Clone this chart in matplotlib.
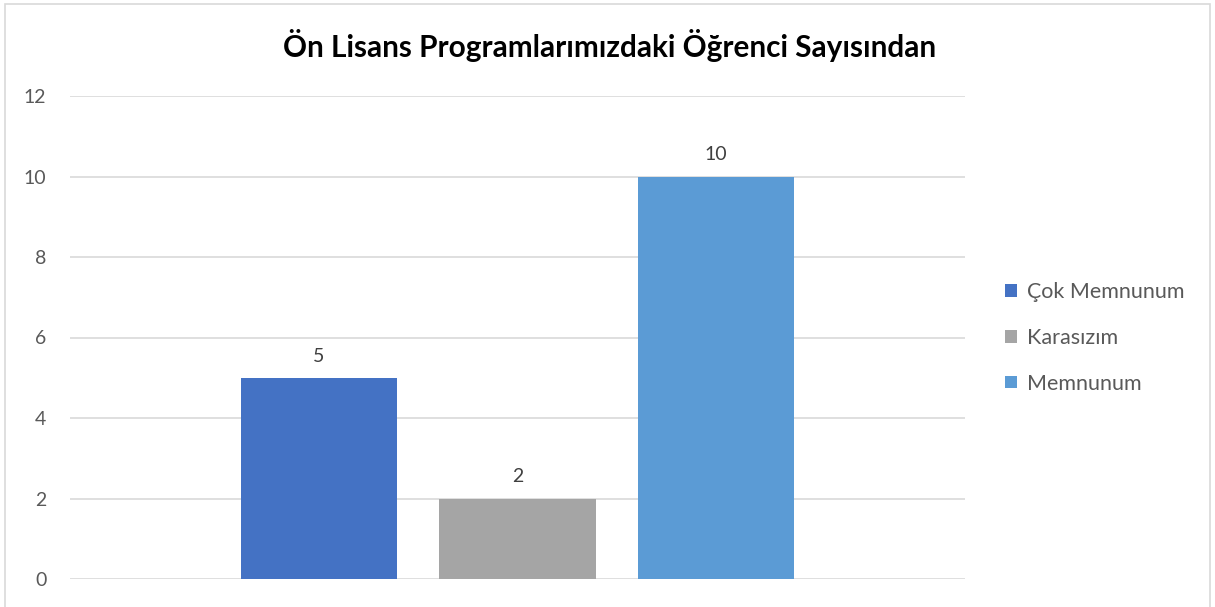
import matplotlib.pyplot as plt
from matplotlib.patches import Rectangle

# --- data ---
TITLE = "Ön Lisans Programlarımızdaki Öğrenci Sayısından"
categories = ["Çok Memnunum", "Karasızım", "Memnunum"]
values = [5, 2, 10]
colors = ["#4472C4", "#A5A5A5", "#5B9BD5"]
yticks = [0, 2, 4, 6, 8, 10, 12]

plt.rcParams['font.family'] = ['Lato', 'DejaVu Sans']

W, H = 1215, 607
fig = plt.figure(figsize=(W / 100, H / 100), dpi=100)

# outer chart border (bottom edge runs off the image)
fig.patches.append(Rectangle((5 / W, -0.05), 1205 / W, 1 - 4 / H + 0.05,
                             transform=fig.transFigure, fill=False,
                             edgecolor='#D9D9D9', linewidth=1.2))

ax = fig.add_axes([70 / W, 1 - 579 / H, 895 / W, (579 - 96) / H])

x = range(len(values))
bars = ax.bar(x, values, width=0.79, color=colors, label=categories, zorder=3)
for xi, v in zip(x, values):
    ax.annotate(str(v), (xi, v), xytext=(0, 9.5), textcoords='offset points',
                ha='center', va='bottom', fontsize=14, color='#404040')

ax.set_xlim(-1.255, 3.255)
ax.set_ylim(0, 12)
ax.set_yticks(yticks)
ax.set_xticks([])
ax.grid(axis='y', color='#D9D9D9', linewidth=1.2, zorder=0)
for s in ax.spines.values():
    s.set_visible(False)
ax.tick_params(axis='y', length=0, pad=17, labelsize=14, labelcolor='#595959')

fig.text(610 / W, 1 - 45 / H, TITLE, ha='center', va='center',
         fontsize=21.4, fontweight='bold', color='black')

fig.legend(handles=bars.patches, labels=categories, loc='center left',
           bbox_to_anchor=(986 / W, 1 - 338 / H), frameon=False,
           fontsize=15.5, labelcolor='#595959', handlelength=0.52,
           handleheight=0.52, handletextpad=0.5, labelspacing=1.2)

fig.savefig('out.png', dpi=100, facecolor='white')
